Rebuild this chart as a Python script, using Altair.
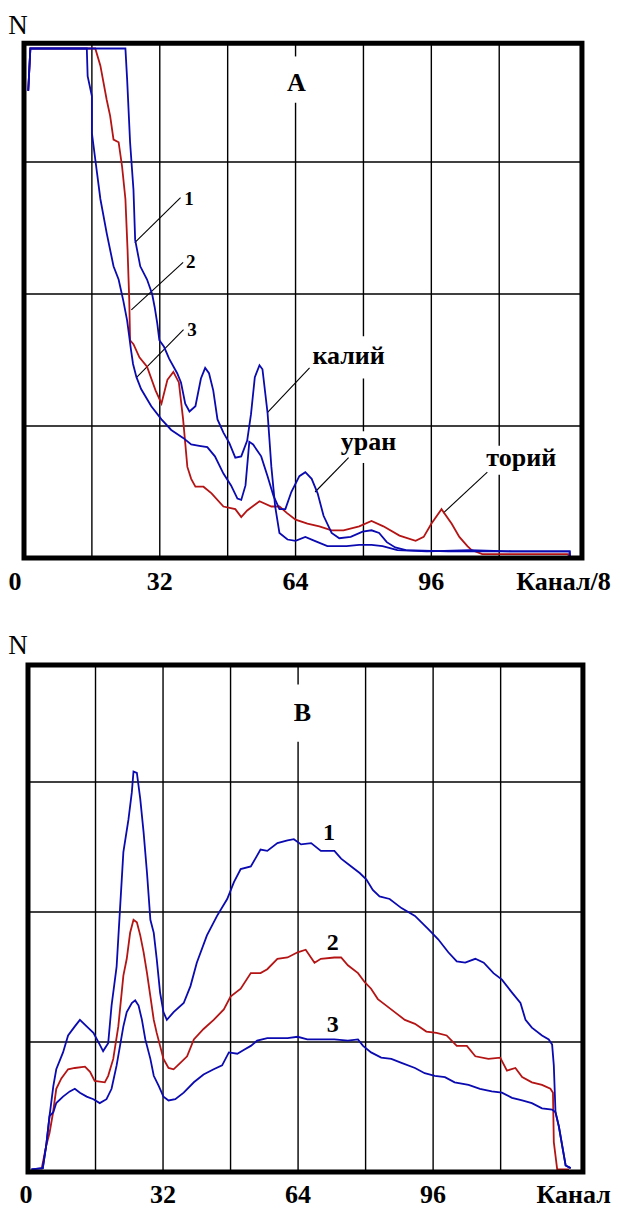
import altair as alt
import pandas as pd

# ---------------- Panel A (Канал/8) ----------------
A1_X = [1.0, 1.5, 23.9, 24.3, 25.0, 25.8, 26.2, 27.4, 29.0, 30.2, 30.8, 31.4, 31.9, 33.0, 34.2, 36.1, 37.0, 38.0,
        39.0, 40.4, 41.7, 42.7, 43.6, 44.6, 45.6, 47.0, 48.4, 49.8, 51.2, 52.6, 53.5, 54.4, 55.5, 56.2, 57.4, 58.3,
        59.2, 60.2, 62.1, 64.0, 66.3, 68.5, 71.5, 76.0, 79.0, 81.9, 84.5, 88.0, 95.0, 105.0, 115.0, 128.6, 128.7]
A1_Y = [3.54, 3.86, 3.86, 3.63, 3.15, 2.79, 2.41, 2.21, 2.11, 2.0, 1.9, 1.78, 1.65, 1.6, 1.51, 1.4, 1.33, 1.17,
        1.11, 1.15, 1.36, 1.44, 1.4, 1.27, 1.05, 0.95, 0.87, 0.76, 0.77, 0.89, 1.09, 1.37, 1.46, 1.43, 1.1, 0.69,
        0.39, 0.19, 0.14, 0.13, 0.16, 0.13, 0.09, 0.09, 0.1, 0.1, 0.09, 0.06, 0.05, 0.06, 0.05, 0.05, 0.0]

A2_X = [1.0, 1.5, 16.8, 18.0, 19.5, 20.3, 21.1, 22.3, 23.1, 23.9, 24.4, 24.8, 25.0, 25.8, 27.2, 29.0, 31.0, 32.4,
        33.8, 35.2, 36.5, 37.5, 38.5, 39.4, 40.4, 42.3, 44.2, 47.0, 49.8, 51.2, 52.6, 55.5, 58.3, 60.2, 62.0, 64.0,
        66.8, 69.6, 72.5, 75.3, 79.0, 81.9, 84.7, 88.5, 92.3, 94.2, 96.0, 98.4, 100.8, 102.6, 104.5, 105.5, 108.0,
        128.3, 128.4]
A2_Y = [3.54, 3.86, 3.86, 3.73, 3.47, 3.35, 3.17, 3.15, 2.97, 2.72, 2.34, 1.96, 1.65, 1.62, 1.52, 1.45, 1.27, 1.17,
        1.35, 1.41, 1.33, 1.05, 0.69, 0.6, 0.54, 0.54, 0.49, 0.39, 0.37, 0.31, 0.36, 0.43, 0.39, 0.39, 0.34, 0.29,
        0.26, 0.24, 0.21, 0.21, 0.24, 0.28, 0.24, 0.17, 0.13, 0.16, 0.26, 0.37, 0.26, 0.16, 0.09, 0.06, 0.03,
        0.03, 0.0]

A3_X = [1.0, 1.5, 14.8, 15.0, 16.0, 16.0, 17.2, 18.0, 19.5, 21.1, 22.3, 23.4, 24.3, 24.8, 25.2, 25.7, 26.5, 27.6,
        30.0, 32.4, 34.7, 37.5, 39.4, 41.3, 43.2, 45.0, 47.0, 48.8, 50.3, 51.2, 52.2, 53.1, 54.0, 55.9, 57.4, 58.8,
        60.2, 61.6, 63.0, 64.9, 66.3, 67.8, 69.2, 70.6, 72.5, 74.3, 77.0, 79.8, 81.9, 83.7, 85.5, 87.5, 90.0,
        100.0, 110.0, 120.0, 128.6, 128.7]
A3_Y = [3.54, 3.86, 3.86, 3.65, 3.5, 3.22, 2.92, 2.72, 2.46, 2.21, 2.11, 1.95, 1.8, 1.68, 1.58, 1.47, 1.37, 1.28,
        1.15, 1.05, 0.97, 0.91, 0.86, 0.85, 0.84, 0.77, 0.64, 0.55, 0.45, 0.44, 0.55, 0.88, 0.86, 0.77, 0.62, 0.47,
        0.37, 0.37, 0.5, 0.62, 0.65, 0.6, 0.49, 0.32, 0.19, 0.15, 0.16, 0.2, 0.21, 0.19, 0.12, 0.08, 0.06,
        0.05, 0.05, 0.05, 0.05, 0.0]

# ---------------- Panel B (Канал) ----------------
B1_X = [0.8, 3.5, 4.3, 5.1, 6.0, 6.7, 8.3, 9.5, 11.1, 12.3, 13.9, 15.5, 17.0, 17.8, 19.0, 19.8, 21.0, 21.8, 22.6,
        23.8, 24.6, 25.0, 25.8, 26.6, 27.4, 28.2, 29.0, 29.8, 30.5, 31.3, 32.1, 32.9, 34.5, 36.9, 38.5, 40.0, 42.4,
        44.8, 47.2, 48.8, 50.4, 52.8, 55.1, 56.7, 59.1, 61.5, 63.0, 64.7, 67.1, 69.4, 72.6, 74.2, 76.6, 78.6, 80.2,
        81.7, 83.3, 85.7, 88.5, 91.7, 94.8, 97.2, 99.6, 101.6, 103.6, 106.0, 108.0, 110.3, 112.3, 114.7, 116.7,
        117.9, 119.4, 121.8, 123.4, 124.2, 124.6, 125.0, 125.8, 126.6, 127.4, 128.6]
B1_Y = [0.02, 0.03, 0.2, 0.43, 0.66, 0.79, 0.92, 1.05, 1.12, 1.17, 1.12, 1.07, 0.98, 0.93, 0.99, 1.28, 1.58, 2.02, 2.46,
        2.71, 2.92, 3.08, 3.07, 2.87, 2.61, 2.3, 1.94, 1.84, 1.64, 1.38, 1.23, 1.17, 1.23, 1.3, 1.43, 1.61, 1.82,
        1.97, 2.1, 2.23, 2.33, 2.35, 2.48, 2.47, 2.53, 2.55, 2.56, 2.52, 2.53, 2.47, 2.47, 2.41, 2.35, 2.3, 2.25,
        2.17, 2.12, 2.1, 2.03, 1.97, 1.87, 1.79, 1.69, 1.62, 1.61, 1.64, 1.61, 1.53, 1.48, 1.38, 1.3,
        1.17, 1.11, 1.05, 1.02, 0.98, 0.82, 0.46, 0.35, 0.2, 0.05, 0.03]

B2_X = [3.2, 4.3, 5.1, 5.9, 6.7, 7.9, 9.5, 11.1, 13.5, 14.7, 15.8, 18.2, 19.0, 20.2, 21.4, 22.6, 23.4, 24.2, 25.0,
        25.8, 26.6, 27.4, 28.2, 29.0, 29.8, 30.5, 31.3, 32.1, 33.3, 34.5, 36.1, 37.7, 39.3, 41.6, 44.0, 46.4, 48.0,
        50.4, 52.8, 55.1, 56.7, 59.1, 61.5, 63.9, 65.8, 67.9, 69.4, 72.6, 74.2, 75.8, 78.2, 79.8, 81.3, 82.9, 84.9,
        86.9, 89.3, 91.7, 94.4, 96.8, 99.2, 101.6, 104.0, 106.0, 109.1, 111.9, 113.5, 115.5, 117.1, 119.4, 121.8,
        123.8, 124.4, 124.6, 125.4, 128.2]
B2_Y = [0.02, 0.2, 0.3, 0.45, 0.64, 0.72, 0.79, 0.8, 0.81, 0.77, 0.7, 0.69, 0.74, 0.87, 1.12, 1.51, 1.64, 1.84, 1.94,
        1.92, 1.82, 1.69, 1.53, 1.35, 1.17, 1.07, 0.97, 0.87, 0.8, 0.79, 0.84, 0.89, 1.02, 1.1, 1.17, 1.25, 1.35,
        1.41, 1.53, 1.53, 1.56, 1.64, 1.65, 1.69, 1.71, 1.61, 1.64, 1.65, 1.65, 1.59, 1.53, 1.46, 1.41, 1.33, 1.28,
        1.23, 1.17, 1.14, 1.08, 1.07, 1.05, 0.97, 0.97, 0.89, 0.87, 0.88, 0.78, 0.8, 0.73, 0.69, 0.67,
        0.64, 0.61, 0.23, 0.02, 0.02]

B3_X = [0.8, 3.5, 4.3, 5.1, 6.0, 6.7, 8.3, 9.9, 11.1, 12.3, 13.9, 15.5, 17.0, 18.6, 19.8, 21.0, 21.8, 22.6, 23.4,
        24.6, 25.4, 26.2, 27.0, 27.8, 29.0, 29.8, 31.0, 32.1, 33.3, 34.9, 36.9, 39.3, 41.6, 44.0, 46.0, 47.6, 49.6,
        51.2, 52.8, 54.3, 56.7, 59.1, 61.5, 63.9, 66.2, 68.7, 72.6, 75.8, 78.2, 79.4, 81.3, 83.7, 86.1, 88.5, 91.7,
        94.0, 96.4, 98.8, 101.1, 104.4, 107.1, 109.9, 112.3, 114.7, 117.1, 119.4, 121.8, 124.2, 125.0, 125.8,
        126.6, 127.4, 128.6]
B3_Y = [0.02, 0.03, 0.2, 0.43, 0.46, 0.53, 0.58, 0.62, 0.64, 0.61, 0.58, 0.56, 0.53, 0.56, 0.64, 0.82, 0.97, 1.12, 1.23,
        1.3, 1.32, 1.28, 1.17, 1.02, 0.87, 0.74, 0.66, 0.58, 0.55, 0.56, 0.61, 0.69, 0.75, 0.79, 0.82, 0.92, 0.91,
        0.94, 0.97, 1.01, 1.03, 1.03, 1.03, 1.04, 1.02, 1.02, 1.02, 1.01, 1.02, 0.97, 0.92, 0.88, 0.87, 0.84, 0.8,
        0.76, 0.74, 0.73, 0.69, 0.67, 0.64, 0.62, 0.61, 0.57, 0.55, 0.53, 0.49, 0.48, 0.46, 0.35,
        0.2, 0.05, 0.03]

# grid / frame (data units)
GRID_X = [16, 32, 48, 64, 80, 96, 112]
GRID_Y = [1, 2, 3]
FRAME_X = [0, 131.5]
FRAME_Y = [0, 3.9]
TICK_VALUES = [32, 64, 96]

# text annotations (panel A)
A_LABELS = ["A", "1", "2", "3", "калий", "уран", "торий"]
A_LAB_X = [64.2, 38.9, 39.3, 39.6, 76.5, 81.2, 117.2]
A_LAB_Y = [3.6, 2.72, 2.24, 1.73, 1.53, 0.88, 0.76]
A_LAB_FS = [26, 19, 19, 19, 26, 26, 26]
A_LEAD_X1 = [36.9, 37.5, 37.6, 67.3, 76.5, 109.2]
A_LEAD_Y1 = [2.73, 2.24, 1.73, 1.44, 0.76, 0.65]
A_LEAD_X2 = [26.1, 25.3, 26.6, 57.3, 68.6, 98.8]
A_LEAD_Y2 = [2.39, 1.88, 1.37, 1.1, 0.5, 0.34]

# text annotations (panel B)
B_LABELS = ["B", "1", "2", "3"]
B_LAB_X = [65.0, 71.3, 72.2, 72.2]
B_LAB_Y = [3.53, 2.61, 1.76, 1.13]
B_LAB_FS = [26, 24, 24, 24]

BLUE = "#0a0ab0"
RED = "#b41414"
FONT = "Liberation Serif, Times New Roman, DejaVu Serif, serif"
W = 604


def line_df(pairs):
    rows = []
    for name, xs, ys in pairs:
        for i, (x, y) in enumerate(zip(xs, ys)):
            rows.append({"x": x, "y": y, "i": i, "s": name})
    return pd.DataFrame(rows)


def panel(curves, gaps, labels, leaders, ticks, unit_label, n_pos, xdom, ydom, h):
    xs = alt.Scale(domain=xdom, nice=False, zero=False)
    ys = alt.Scale(domain=ydom, nice=False, zero=False)
    X = lambda f: alt.X(f, scale=xs, axis=None)
    Y = lambda f: alt.Y(f, scale=ys, axis=None)

    segs = []
    for gx in GRID_X:
        lo = FRAME_Y[0]
        for a, b in sorted(gaps.get(gx, [])):
            segs.append({"x": gx, "y1": lo, "y2": a})
            lo = b
        segs.append({"x": gx, "y1": lo, "y2": FRAME_Y[1]})
    vgrid = alt.Chart(pd.DataFrame(segs)).mark_rule(color="black", strokeWidth=1.4).encode(
        x=X("x:Q"), y=Y("y1:Q"), y2="y2:Q")
    hgrid = alt.Chart(pd.DataFrame({"y": GRID_Y, "x1": FRAME_X[0], "x2": FRAME_X[1]})).mark_rule(
        color="black", strokeWidth=1.4).encode(x=X("x1:Q"), x2="x2:Q", y=Y("y:Q"))

    frame = alt.Chart(pd.DataFrame({"x1": [FRAME_X[0]], "x2": [FRAME_X[1]],
                                    "y1": [FRAME_Y[0]], "y2": [FRAME_Y[1]]})).mark_rect(
        fillOpacity=0, stroke="black", strokeWidth=5).encode(
        x=X("x1:Q"), x2="x2:Q", y=Y("y1:Q"), y2="y2:Q")

    lines = alt.Chart(line_df(curves)).mark_line(strokeWidth=1.8).encode(
        x=X("x:Q"), y=Y("y:Q"),
        color=alt.Color("s:N", scale=alt.Scale(domain=["c2", "c1", "c3"], range=[RED, BLUE, BLUE]), legend=None),
        detail="s:N", order=alt.Order("i:Q"))

    texts = alt.Chart(pd.DataFrame(labels)).mark_text(font=FONT, fontWeight="bold", color="black",
                                                      baseline="middle", align="center").encode(
        x=X("x:Q"), y=Y("y:Q"), text="t:N", size=alt.Size("fs:Q", scale=None, legend=None))

    tick_text = alt.Chart(pd.DataFrame(ticks)).mark_text(font=FONT, fontWeight="bold", fontSize=26, color="black",
                                                         baseline="middle", align="center").encode(
        x=X("x:Q"), y=Y("y:Q"), text="t:N")

    unit_text = alt.Chart(pd.DataFrame(unit_label)).mark_text(font=FONT, fontWeight="bold", fontSize=26,
                                                              color="black", baseline="middle",
                                                              align="right").encode(
        x=X("x:Q"), y=Y("y:Q"), text="t:N")

    n_text = alt.Chart(pd.DataFrame({"x": [n_pos[0]], "y": [n_pos[1]], "t": ["N"]})).mark_text(
        font=FONT, fontSize=27, color="black", baseline="middle", align="center").encode(
        x=X("x:Q"), y=Y("y:Q"), text="t:N")

    layers = [vgrid, hgrid]
    if leaders is not None:
        layers.append(alt.Chart(pd.DataFrame(leaders)).mark_rule(color="black", strokeWidth=1.1).encode(
            x=X("x1:Q"), y=Y("y1:Q"), x2="x2:Q", y2="y2:Q"))
    layers += [lines, frame, texts, tick_text, unit_text, n_text]
    return alt.layer(*layers).properties(width=W, height=h)


chartA = panel(
    [("c2", A2_X, A2_Y), ("c3", A3_X, A3_Y), ("c1", A1_X, A1_Y)],
    {64: [(3.45, 3.8)], 80: [(0.72, 0.96), (1.36, 1.68)], 112: [(0.63, 0.85)]},
    {"x": A_LAB_X, "y": A_LAB_Y, "t": A_LABELS, "fs": A_LAB_FS},
    {"x1": A_LEAD_X1, "y1": A_LEAD_Y1, "x2": A_LEAD_X2, "y2": A_LEAD_Y2},
    {"x": [-2.12] + TICK_VALUES, "y": [-0.182] * 4, "t": ["0", "32", "64", "96"]},
    {"x": [138.3], "y": [-0.182], "t": ["Канал/8"]},
    (-1.41, 4.03),
    [-3.771, 138.58], [-0.394, 4.167], 602)

chartB = panel(
    [("c2", B2_X, B2_Y), ("c3", B3_X, B3_Y), ("c1", B1_X, B1_Y)],
    {64: [(3.31, 3.75)]},
    {"x": B_LAB_X, "y": B_LAB_Y, "t": B_LABELS, "fs": B_LAB_FS},
    None,
    {"x": [-0.47] + TICK_VALUES, "y": [-0.177] * 4, "t": ["0", "32", "64", "96"]},
    {"x": [138.1], "y": [-0.177], "t": ["Канал"]},
    (-2.37, 4.046),
    [-4.739, 138.389], [-0.277, 4.323], 598)

chart = alt.vconcat(chartA, chartB, spacing=0).properties(
    padding={"left": 0, "top": 0, "right": 0, "bottom": 0}
).configure_view(stroke="transparent", strokeWidth=0)

chart.save("out.html", embed_options={"renderer": "svg", "actions": False})
